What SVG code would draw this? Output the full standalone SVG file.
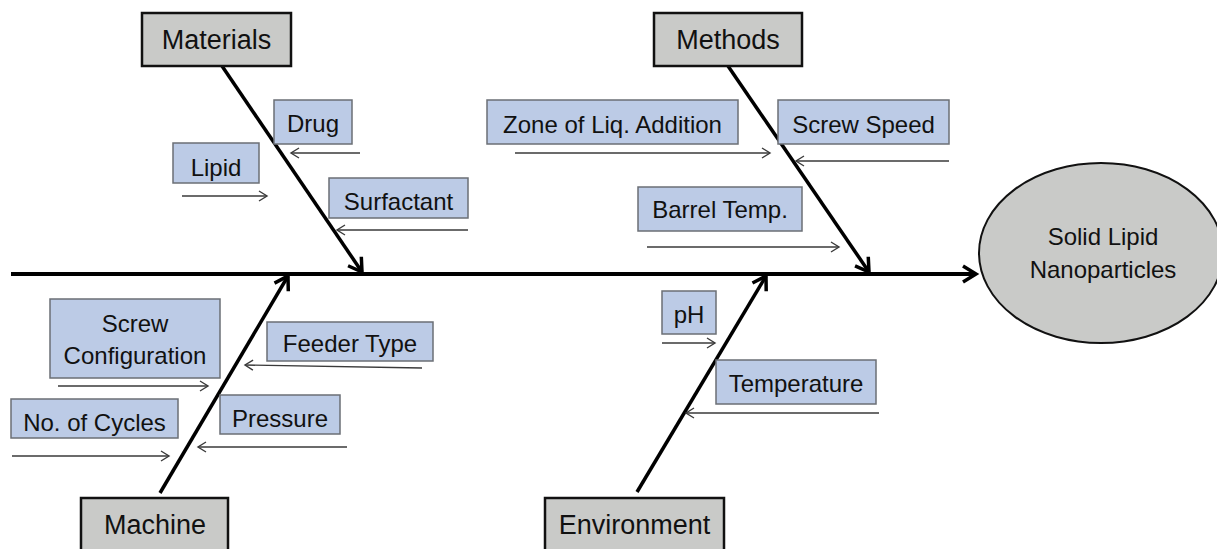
<svg xmlns="http://www.w3.org/2000/svg" width="1217" height="549" viewBox="0 0 1217 549">
<defs>
<style>
.cat rect{fill:#c9cac8;stroke:#111;stroke-width:2.5}
.sub rect{fill:#bccbe6;stroke:#6b6f75;stroke-width:1.5}
text{font-family:"Liberation Sans",Arial,sans-serif;fill:#111;text-anchor:middle}
.cat text{font-size:27px}
.sub text{font-size:24px}
.main{stroke:#000;stroke-width:4;fill:none;marker-end:url(#big)}
.br{stroke:#000;stroke-width:3.5;fill:none;marker-end:url(#big)}
.sa{stroke:#3a3a3a;stroke-width:1.4;fill:none;marker-end:url(#small)}
</style>
<marker id="big" markerUnits="userSpaceOnUse" viewBox="-16 -10 20 20" refX="0" refY="0" markerWidth="20" markerHeight="20" orient="auto" overflow="visible">
<path d="M-13,-8 L0,0 L-13,8" fill="none" stroke="#000" stroke-width="3.5"/>
</marker>
<marker id="small" markerUnits="userSpaceOnUse" viewBox="-10 -6 12 12" refX="0" refY="0" markerWidth="12" markerHeight="12" orient="auto" overflow="visible">
<path d="M-8,-5 L0,0 L-8,5" fill="none" stroke="#3a3a3a" stroke-width="1.4"/>
</marker>
</defs>
<rect width="1217" height="549" fill="#fff"/>
<g id="connectors">
<line class="main" x1="11" y1="274" x2="976" y2="274"/>
<line class="br" x1="222" y1="66" x2="362" y2="272"/>
<line class="br" x1="728" y1="66" x2="869" y2="272"/>
<line class="br" x1="160" y1="493" x2="288" y2="276"/>
<line class="br" x1="637" y1="492" x2="766" y2="276"/>
<line class="sa" x1="360" y1="153" x2="291" y2="153"/>
<line class="sa" x1="182" y1="196" x2="267" y2="196"/>
<line class="sa" x1="468" y1="230" x2="337" y2="230"/>
<line class="sa" x1="515" y1="153" x2="770" y2="153"/>
<line class="sa" x1="949" y1="161" x2="796" y2="161"/>
<line class="sa" x1="647" y1="247" x2="839" y2="247"/>
<line class="sa" x1="58" y1="386" x2="208" y2="386"/>
<line class="sa" x1="12" y1="456" x2="169" y2="456"/>
<line class="sa" x1="422" y1="368" x2="245" y2="365"/>
<line class="sa" x1="347" y1="447" x2="198" y2="447"/>
<line class="sa" x1="662" y1="343" x2="715" y2="343"/>
<line class="sa" x1="879" y1="413" x2="686" y2="413"/>
</g>
<g id="outcome">
<ellipse cx="1101" cy="253" rx="122" ry="90" fill="#c9cac8" stroke="#111" stroke-width="2"/>
<text x="1103" y="245" font-size="24">Solid Lipid</text>
<text x="1103" y="278" font-size="24">Nanoparticles</text>
</g>
<g id="materials" class="cat"><rect x="142" y="13" width="149" height="53"/><text x="216.5" y="49">Materials</text></g>
<g id="methods" class="cat"><rect x="654" y="13" width="148" height="53"/><text x="728" y="49">Methods</text></g>
<g id="machine" class="cat"><rect x="81" y="498" width="147" height="60"/><text x="155" y="534">Machine</text></g>
<g id="environment" class="cat"><rect x="545" y="498" width="179" height="60"/><text x="634.5" y="534">Environment</text></g>
<g id="drug" class="sub"><rect x="274" y="100" width="78" height="44"/><text x="313" y="132">Drug</text></g>
<g id="lipid" class="sub"><rect x="173" y="143" width="86" height="40"/><text x="216" y="176">Lipid</text></g>
<g id="surfactant" class="sub"><rect x="329" y="178" width="139" height="40"/><text x="398.5" y="210">Surfactant</text></g>
<g id="zone" class="sub"><rect x="487" y="100" width="251" height="44"/><text x="612.5" y="133">Zone of Liq. Addition</text></g>
<g id="screwspeed" class="sub"><rect x="778" y="100" width="171" height="44"/><text x="863.5" y="133">Screw Speed</text></g>
<g id="barrel" class="sub"><rect x="638" y="187" width="164" height="44"/><text x="720" y="218">Barrel Temp.</text></g>
<g id="screwconfig" class="sub"><rect x="50" y="299" width="170" height="79"/><text x="135" y="332">Screw</text><text x="135" y="364">Configuration</text></g>
<g id="feeder" class="sub"><rect x="267" y="322" width="166" height="39"/><text x="350" y="352">Feeder Type</text></g>
<g id="cycles" class="sub"><rect x="11" y="399" width="167" height="39"/><text x="94.5" y="431">No. of Cycles</text></g>
<g id="pressure" class="sub"><rect x="220" y="395" width="120" height="39"/><text x="280" y="427">Pressure</text></g>
<g id="ph" class="sub"><rect x="662" y="291" width="54" height="43"/><text x="689" y="323">pH</text></g>
<g id="temperature" class="sub"><rect x="716" y="360" width="160" height="44"/><text x="796" y="392">Temperature</text></g>
</svg>
